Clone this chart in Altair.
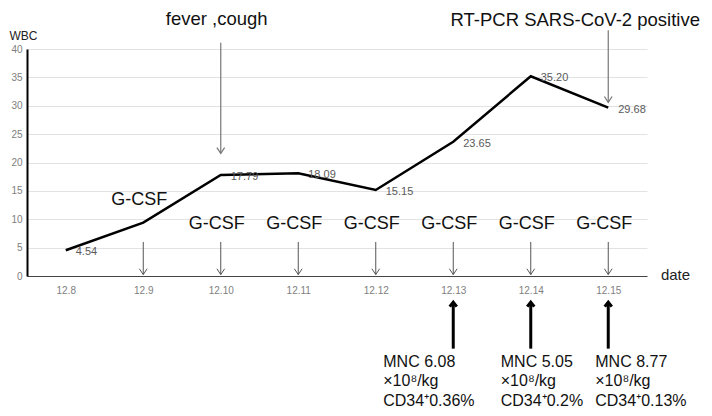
import altair as alt
import pandas as pd

# ---- data ----
dates = ["12.8", "12.9", "12.10", "12.11", "12.12", "12.13", "12.14", "12.15"]
wbc = [4.54, 9.4, 17.79, 18.09, 15.15, 23.65, 35.20, 29.68]
wbc_labels = ["4.54", "", "17.79", "18.09", "15.15", "23.65", "35.20", "29.68"]
gcsf_dates = ["12.9", "12.10", "12.11", "12.12", "12.13", "12.14", "12.15"]
event_dates = ["12.10", "12.15"]
event_texts = ["fever ,cough", "RT-PCR SARS-CoV-2 positive"]
mnc_dates = ["12.13", "12.14", "12.15"]
mnc_texts = [
    ["MNC 6.08", "×10⁸/kg", "CD34⁺0.36%"],
    ["MNC 5.05", "×10⁸/kg", "CD34⁺0.2%"],
    ["MNC 8.77", "×10⁸/kg", "CD34⁺0.13%"],
]

FONT = "Liberation Sans"
W, H = 620, 227

xscale = alt.Scale(type="point", domain=dates, padding=0.5)
yscale = alt.Scale(domain=[0, 40], nice=False, zero=False)

XAXIS = alt.Axis(
    title="date", titleFont=FONT, titleFontSize=15, titleFontWeight="normal",
    titleColor="#222", titleX=648, titleY=-2, titleAlign="center",
    titleBaseline="middle", titleAnchor="start",
    labelFont=FONT, labelFontSize=10, labelColor="#808080", labelAngle=0,
    labelPadding=9, ticks=False, domainColor="#444", domainWidth=1, grid=False)
YAXIS = alt.Axis(
    title="WBC", titleFont=FONT, titleFontSize=12, titleFontWeight="normal",
    titleColor="#222", titleAngle=0, titleX=-18, titleY=-10, titleAlign="left",
    titleBaseline="alphabetic", values=list(range(0, 41, 5)),
    labelFont=FONT, labelFontSize=10, labelColor="#808080", labelPadding=5,
    ticks=False, domainColor="#000", domainWidth=2, gridColor="#e2e2e2")


def xn():
    return alt.X("date:N", scale=xscale, axis=XAXIS, title="date")


def yq(f):
    return alt.Y(f, scale=yscale, axis=YAXIS, title="WBC")


df = pd.DataFrame({"date": dates, "wbc": wbc, "label": wbc_labels})
base = alt.Chart(df)
line = base.mark_line(color="#000", strokeWidth=2.5).encode(x=xn(), y=yq("wbc:Q"))
labels = base.mark_text(align="left", baseline="middle", dx=10, dy=2, font=FONT,
                        fontSize=11, color="#5a5a5a").encode(x=xn(), y=yq("wbc:Q"), text="label:N")

down_head = "M-1,-1.5L0,0L1,-1.5"
up_head = "M-1,1.3L0,0L1,1.3"

# G-CSF arrows
g = pd.DataFrame({"date": gcsf_dates, "y0": 6.0, "y1": 0.25,
                  "ty": [13.4] + [9.2] * 6, "t": "G-CSF"})
gc = alt.Chart(g)
g_rule = gc.mark_rule(color="#555", strokeWidth=1).encode(x=xn(), y=yq("y0:Q"), y2="y1:Q")
g_head = gc.mark_point(shape=down_head, size=60, filled=False, color="#555",
                       strokeWidth=1, opacity=1).encode(x=xn(), y=yq("y1:Q"))
g_text = gc.mark_text(font=FONT, fontSize=18, color="#111", baseline="middle", dx=-4).encode(
    x=xn(), y=yq("ty:Q"), text="t:N")

# event arrows
e = pd.DataFrame({"date": event_dates, "t": event_texts,
                  "y0": [41.1, 43.3], "y1": [21.6, 30.6], "ty": [45.2, 45.1]})
ec = alt.Chart(e)
e_rule = ec.mark_rule(color="#777", strokeWidth=1.2).encode(x=xn(), y=yq("y0:Q"), y2="y1:Q")
e_head = ec.mark_point(shape=down_head, size=60, filled=False, color="#777",
                       strokeWidth=1.2, opacity=1).encode(x=xn(), y=yq("y1:Q"))
e_text1 = alt.Chart(e.iloc[[0]]).mark_text(font=FONT, fontSize=18.5, color="#111", dx=-4,
                                           baseline="middle").encode(x=xn(), y=yq("ty:Q"), text="t:N")
e_text2 = alt.Chart(e.iloc[[1]]).mark_text(font=FONT, fontSize=18.5, color="#111", dx=-33,
                                           baseline="middle").encode(x=xn(), y=yq("ty:Q"), text="t:N")

# MNC arrows + texts
m = pd.DataFrame({"date": mnc_dates, "y0": -12.8, "y1": -4.6,
                  "t": ["\n".join(t) for t in mnc_texts], "ty": -16.0})
mc = alt.Chart(m)
m_rule = mc.mark_rule(color="#000", strokeWidth=3).encode(x=xn(), y=yq("y0:Q"), y2="y1:Q")
m_head = mc.mark_point(shape=up_head, size=50, filled=False, color="#000",
                       strokeWidth=3, opacity=1).encode(x=xn(), y=yq("y1:Q"))
m_texts = []
for i, dx in enumerate([-70, -30, -13]):
    m_texts.append(alt.Chart(m.iloc[[i]]).mark_text(
        font=FONT, fontSize=16, color="#111", align="left", baseline="alphabetic",
        lineBreak="\n", lineHeight=19.5, dx=dx).encode(x=xn(), y=yq("ty:Q"), text="t:N"))

chart = alt.layer(line, labels, g_rule, g_head, g_text, e_rule, e_head, e_text1, e_text2,
                  m_rule, m_head, *m_texts).properties(
    width=W, height=H,
    autosize=alt.AutoSizeParams(type="none"),
    padding={"left": 19, "top": 41, "right": 57, "bottom": 132},
).configure_view(stroke=None)

chart.save("out.html", embed_options={"renderer": "svg", "actions": False})
